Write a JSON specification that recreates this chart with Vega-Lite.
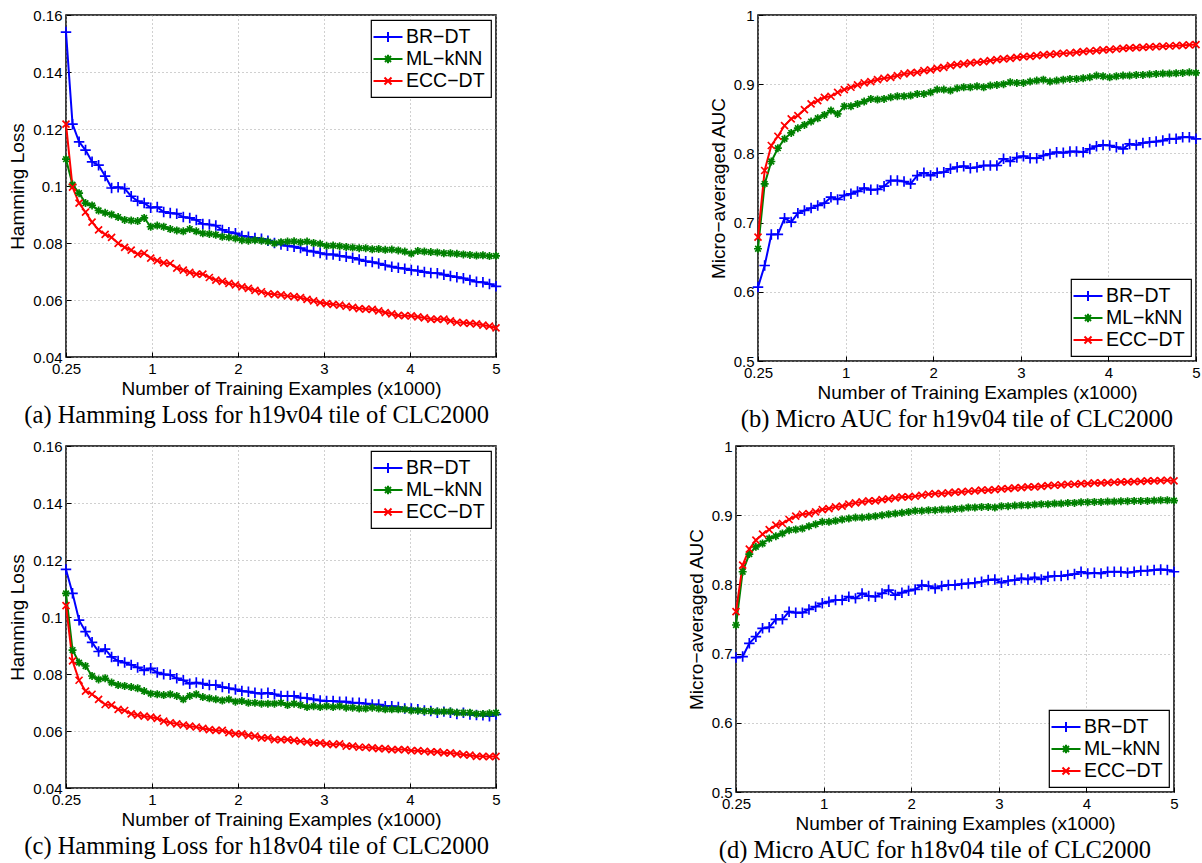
{
"$schema": "https://vega.github.io/schema/vega-lite/v6.json",
"padding": {"left": 8, "top": 7, "right": 0, "bottom": 0},
"background": "white",
"config": {
  "view": {"stroke": "#000", "strokeWidth": 1.5},
  "axis": {"labelFont": "Liberation Sans", "labelFontSize": 15, "labelColor": "#000", "titleFont": "Liberation Sans", "titleFontSize": 19, "titleFontWeight": "normal", "titleColor": "#000", "grid": true, "gridColor": "#a0a0a0", "gridDash": [1, 3], "domain": false, "ticks": true, "tickSize": -5, "tickColor": "#000", "tickWidth": 1, "labelPadding": 9, "labelFlush": false, "labelOverlap": false},
  "axisX": {"titlePadding": 3},
  "axisY": {"titlePadding": 5},
  "legend": {"strokeColor": "#000", "strokeWidth": 1.2, "fillColor": "#fff", "padding": 6, "labelFont": "Liberation Sans", "labelFontSize": 19.5, "labelColor": "#000", "symbolSize": 400, "symbolStrokeWidth": 2, "rowPadding": 1, "labelOffset": 7, "offset": 5},
  "title": {"font": "Liberation Serif", "fontSize": 24.5, "fontWeight": "normal", "color": "#000", "orient": "bottom", "anchor": "middle", "frame": "bounds", "offset": 6}
},
"datasets": {
"a": [
{"x":0,"B":0.154,"M":0.1094,"E":0.1217},
{"x":0.076,"B":0.1217,"M":0.1005,"E":0.0996},
{"x":0.152,"B":0.1155,"M":0.0975,"E":0.094},
{"x":0.227,"B":0.1126,"M":0.094,"E":0.0908},
{"x":0.303,"B":0.1085,"M":0.0932,"E":0.0873},
{"x":0.379,"B":0.1073,"M":0.0914,"E":0.0846},
{"x":0.455,"B":0.1035,"M":0.0906,"E":0.083},
{"x":0.53,"B":0.0993,"M":0.09,"E":0.082},
{"x":0.606,"B":0.0996,"M":0.0891,"E":0.0799},
{"x":0.682,"B":0.0991,"M":0.0881,"E":0.0785},
{"x":0.758,"B":0.0964,"M":0.0879,"E":0.0775},
{"x":0.833,"B":0.0947,"M":0.0877,"E":0.0761},
{"x":0.909,"B":0.094,"M":0.0888,"E":0.0764},
{"x":0.985,"B":0.0924,"M":0.0857,"E":0.0747},
{"x":1.061,"B":0.0926,"M":0.0861,"E":0.0738},
{"x":1.136,"B":0.0909,"M":0.0857,"E":0.073},
{"x":1.212,"B":0.0905,"M":0.0849,"E":0.0728},
{"x":1.288,"B":0.0903,"M":0.0844,"E":0.0712},
{"x":1.364,"B":0.0891,"M":0.0841,"E":0.0705},
{"x":1.439,"B":0.0888,"M":0.0849,"E":0.0697},
{"x":1.515,"B":0.0881,"M":0.0841,"E":0.0691},
{"x":1.591,"B":0.0867,"M":0.0834,"E":0.0691},
{"x":1.667,"B":0.0865,"M":0.0832,"E":0.0679},
{"x":1.742,"B":0.0861,"M":0.0829,"E":0.067},
{"x":1.818,"B":0.0846,"M":0.0822,"E":0.0665},
{"x":1.894,"B":0.0838,"M":0.082,"E":0.0658},
{"x":1.97,"B":0.0834,"M":0.0816,"E":0.0653},
{"x":2.045,"B":0.0825,"M":0.081,"E":0.0646},
{"x":2.121,"B":0.0822,"M":0.0808,"E":0.0641},
{"x":2.197,"B":0.0818,"M":0.081,"E":0.0634},
{"x":2.273,"B":0.0815,"M":0.0808,"E":0.0629},
{"x":2.348,"B":0.0808,"M":0.0805,"E":0.0622},
{"x":2.424,"B":0.08,"M":0.0799,"E":0.062},
{"x":2.5,"B":0.0795,"M":0.0803,"E":0.0618},
{"x":2.576,"B":0.079,"M":0.0805,"E":0.0614},
{"x":2.652,"B":0.0787,"M":0.0806,"E":0.0612},
{"x":2.727,"B":0.0782,"M":0.0803,"E":0.0608},
{"x":2.803,"B":0.0773,"M":0.0805,"E":0.0602},
{"x":2.879,"B":0.077,"M":0.08,"E":0.0597},
{"x":2.955,"B":0.0765,"M":0.0797,"E":0.0591},
{"x":3.03,"B":0.076,"M":0.079,"E":0.0587},
{"x":3.106,"B":0.076,"M":0.0791,"E":0.0585},
{"x":3.182,"B":0.0755,"M":0.0789,"E":0.0582},
{"x":3.258,"B":0.0752,"M":0.0786,"E":0.0578},
{"x":3.333,"B":0.0748,"M":0.0784,"E":0.0574},
{"x":3.409,"B":0.0742,"M":0.0782,"E":0.057},
{"x":3.485,"B":0.0736,"M":0.0782,"E":0.0568},
{"x":3.561,"B":0.0733,"M":0.0778,"E":0.0567},
{"x":3.636,"B":0.0728,"M":0.0779,"E":0.0562},
{"x":3.712,"B":0.0722,"M":0.0776,"E":0.0556},
{"x":3.788,"B":0.0717,"M":0.0777,"E":0.0551},
{"x":3.864,"B":0.0713,"M":0.0774,"E":0.0546},
{"x":3.939,"B":0.071,"M":0.077,"E":0.0545},
{"x":4.015,"B":0.0705,"M":0.0763,"E":0.0544},
{"x":4.091,"B":0.0703,"M":0.0772,"E":0.0541},
{"x":4.167,"B":0.0698,"M":0.077,"E":0.0537},
{"x":4.242,"B":0.0695,"M":0.0768,"E":0.0533},
{"x":4.318,"B":0.0694,"M":0.0767,"E":0.0532},
{"x":4.394,"B":0.0689,"M":0.0764,"E":0.0533},
{"x":4.47,"B":0.0684,"M":0.0764,"E":0.0527},
{"x":4.545,"B":0.068,"M":0.0762,"E":0.0522},
{"x":4.621,"B":0.0676,"M":0.076,"E":0.052},
{"x":4.697,"B":0.067,"M":0.0758,"E":0.0518},
{"x":4.773,"B":0.0664,"M":0.0756,"E":0.0516},
{"x":4.848,"B":0.0662,"M":0.0757,"E":0.0512},
{"x":4.924,"B":0.0656,"M":0.0754,"E":0.0508},
{"x":5,"B":0.0648,"M":0.0755,"E":0.0502}
],
"b": [
{"x":0,"B":0.6068,"M":0.6622,"E":0.679},
{"x":0.076,"B":0.638,"M":0.756,"E":0.7753},
{"x":0.152,"B":0.6829,"M":0.7883,"E":0.8114},
{"x":0.227,"B":0.683,"M":0.8075,"E":0.8248},
{"x":0.303,"B":0.7064,"M":0.821,"E":0.8402},
{"x":0.379,"B":0.7007,"M":0.8296,"E":0.8499},
{"x":0.455,"B":0.7137,"M":0.8364,"E":0.8547},
{"x":0.53,"B":0.7175,"M":0.8412,"E":0.8633},
{"x":0.606,"B":0.721,"M":0.846,"E":0.8715},
{"x":0.682,"B":0.7247,"M":0.8508,"E":0.8763},
{"x":0.758,"B":0.728,"M":0.8556,"E":0.8811},
{"x":0.833,"B":0.7367,"M":0.8619,"E":0.8826},
{"x":0.909,"B":0.7334,"M":0.8571,"E":0.8883},
{"x":0.985,"B":0.7392,"M":0.8681,"E":0.8922},
{"x":1.061,"B":0.7416,"M":0.8681,"E":0.8956},
{"x":1.136,"B":0.745,"M":0.8715,"E":0.8989},
{"x":1.212,"B":0.7498,"M":0.8749,"E":0.9018},
{"x":1.288,"B":0.7474,"M":0.8787,"E":0.9038},
{"x":1.364,"B":0.7478,"M":0.8778,"E":0.9066},
{"x":1.439,"B":0.7526,"M":0.8787,"E":0.9086},
{"x":1.515,"B":0.7608,"M":0.8811,"E":0.91},
{"x":1.591,"B":0.7608,"M":0.8826,"E":0.9124},
{"x":1.667,"B":0.7594,"M":0.8826,"E":0.9148},
{"x":1.742,"B":0.756,"M":0.8835,"E":0.9163},
{"x":1.818,"B":0.768,"M":0.8859,"E":0.9172},
{"x":1.894,"B":0.7719,"M":0.8859,"E":0.9196},
{"x":1.97,"B":0.768,"M":0.8883,"E":0.9206},
{"x":2.045,"B":0.7719,"M":0.8922,"E":0.923},
{"x":2.121,"B":0.7729,"M":0.8922,"E":0.9244},
{"x":2.197,"B":0.7777,"M":0.8908,"E":0.9269},
{"x":2.273,"B":0.7801,"M":0.8941,"E":0.9283},
{"x":2.348,"B":0.7815,"M":0.8956,"E":0.9293},
{"x":2.424,"B":0.7786,"M":0.8956,"E":0.9307},
{"x":2.5,"B":0.78,"M":0.897,"E":0.9317},
{"x":2.576,"B":0.7825,"M":0.8956,"E":0.9326},
{"x":2.652,"B":0.7825,"M":0.898,"E":0.9341},
{"x":2.727,"B":0.7825,"M":0.8989,"E":0.9355},
{"x":2.803,"B":0.7921,"M":0.9,"E":0.9365},
{"x":2.879,"B":0.7883,"M":0.9028,"E":0.9374},
{"x":2.955,"B":0.794,"M":0.9018,"E":0.9389},
{"x":3.03,"B":0.796,"M":0.9018,"E":0.9398},
{"x":3.106,"B":0.793,"M":0.9038,"E":0.9403},
{"x":3.182,"B":0.793,"M":0.9052,"E":0.9413},
{"x":3.258,"B":0.797,"M":0.9066,"E":0.9423},
{"x":3.333,"B":0.7993,"M":0.9038,"E":0.9432},
{"x":3.409,"B":0.8017,"M":0.9052,"E":0.9437},
{"x":3.485,"B":0.8008,"M":0.9066,"E":0.9447},
{"x":3.561,"B":0.8027,"M":0.9076,"E":0.9451},
{"x":3.636,"B":0.8027,"M":0.9076,"E":0.9461},
{"x":3.712,"B":0.8017,"M":0.9086,"E":0.9471},
{"x":3.788,"B":0.8065,"M":0.91,"E":0.948},
{"x":3.864,"B":0.8104,"M":0.9124,"E":0.9485},
{"x":3.939,"B":0.8123,"M":0.9115,"E":0.9495},
{"x":4.015,"B":0.8114,"M":0.91,"E":0.95},
{"x":4.091,"B":0.809,"M":0.9115,"E":0.9509},
{"x":4.167,"B":0.8065,"M":0.9124,"E":0.9519},
{"x":4.242,"B":0.8137,"M":0.9124,"E":0.9524},
{"x":4.318,"B":0.8123,"M":0.9134,"E":0.9528},
{"x":4.394,"B":0.8152,"M":0.9134,"E":0.9533},
{"x":4.47,"B":0.8162,"M":0.9143,"E":0.9538},
{"x":4.545,"B":0.8171,"M":0.9148,"E":0.9543},
{"x":4.621,"B":0.8186,"M":0.9153,"E":0.9548},
{"x":4.697,"B":0.821,"M":0.9153,"E":0.9552},
{"x":4.773,"B":0.821,"M":0.9158,"E":0.9557},
{"x":4.848,"B":0.8234,"M":0.9163,"E":0.9562},
{"x":4.924,"B":0.8234,"M":0.9172,"E":0.9567},
{"x":5,"B":0.821,"M":0.9163,"E":0.9572}
],
"c": [
{"x":0,"B":0.1167,"M":0.1083,"E":0.104},
{"x":0.076,"B":0.1083,"M":0.0884,"E":0.0846},
{"x":0.152,"B":0.0989,"M":0.084,"E":0.0778},
{"x":0.227,"B":0.0949,"M":0.0828,"E":0.074},
{"x":0.303,"B":0.0911,"M":0.0793,"E":0.0729},
{"x":0.379,"B":0.0879,"M":0.0781,"E":0.0711},
{"x":0.455,"B":0.0887,"M":0.0785,"E":0.0693},
{"x":0.53,"B":0.086,"M":0.077,"E":0.0691},
{"x":0.606,"B":0.0846,"M":0.0761,"E":0.0676},
{"x":0.682,"B":0.084,"M":0.0758,"E":0.0672},
{"x":0.758,"B":0.0832,"M":0.0754,"E":0.066},
{"x":0.833,"B":0.0823,"M":0.075,"E":0.0656},
{"x":0.909,"B":0.0813,"M":0.074,"E":0.0652},
{"x":0.985,"B":0.082,"M":0.0731,"E":0.0649},
{"x":1.061,"B":0.0805,"M":0.0729,"E":0.0644},
{"x":1.136,"B":0.0799,"M":0.0726,"E":0.0635},
{"x":1.212,"B":0.0797,"M":0.0729,"E":0.0629},
{"x":1.288,"B":0.0785,"M":0.0723,"E":0.0625},
{"x":1.364,"B":0.0778,"M":0.0711,"E":0.0621},
{"x":1.439,"B":0.0766,"M":0.0723,"E":0.0617},
{"x":1.515,"B":0.077,"M":0.0729,"E":0.0614},
{"x":1.591,"B":0.0766,"M":0.0719,"E":0.0609},
{"x":1.667,"B":0.0761,"M":0.0715,"E":0.0605},
{"x":1.742,"B":0.0761,"M":0.0711,"E":0.0602},
{"x":1.818,"B":0.0754,"M":0.0707,"E":0.0602},
{"x":1.894,"B":0.075,"M":0.0711,"E":0.0594},
{"x":1.97,"B":0.0746,"M":0.0703,"E":0.059},
{"x":2.045,"B":0.074,"M":0.0705,"E":0.059},
{"x":2.121,"B":0.0738,"M":0.0699,"E":0.0585},
{"x":2.197,"B":0.0734,"M":0.0699,"E":0.0582},
{"x":2.273,"B":0.0731,"M":0.0696,"E":0.0576},
{"x":2.348,"B":0.0734,"M":0.0696,"E":0.0576},
{"x":2.424,"B":0.0729,"M":0.0696,"E":0.057},
{"x":2.5,"B":0.0723,"M":0.0699,"E":0.057},
{"x":2.576,"B":0.0723,"M":0.0691,"E":0.057},
{"x":2.652,"B":0.0723,"M":0.0696,"E":0.0567},
{"x":2.727,"B":0.0717,"M":0.0691,"E":0.0564},
{"x":2.803,"B":0.0715,"M":0.0684,"E":0.0562},
{"x":2.879,"B":0.0711,"M":0.0687,"E":0.0558},
{"x":2.955,"B":0.0707,"M":0.0684,"E":0.0558},
{"x":3.03,"B":0.0705,"M":0.0687,"E":0.0555},
{"x":3.106,"B":0.0705,"M":0.0684,"E":0.0552},
{"x":3.182,"B":0.0703,"M":0.0687,"E":0.0555},
{"x":3.258,"B":0.0703,"M":0.0682,"E":0.0547},
{"x":3.333,"B":0.0699,"M":0.0682,"E":0.0547},
{"x":3.409,"B":0.0699,"M":0.0679,"E":0.0543},
{"x":3.485,"B":0.0696,"M":0.0679,"E":0.0543},
{"x":3.561,"B":0.0693,"M":0.0682,"E":0.0541},
{"x":3.636,"B":0.0693,"M":0.0679,"E":0.0538},
{"x":3.712,"B":0.0687,"M":0.0676,"E":0.0538},
{"x":3.788,"B":0.0687,"M":0.0676,"E":0.0535},
{"x":3.864,"B":0.0684,"M":0.0676,"E":0.0535},
{"x":3.939,"B":0.0679,"M":0.0676,"E":0.0535},
{"x":4.015,"B":0.0679,"M":0.0672,"E":0.0531},
{"x":4.091,"B":0.0676,"M":0.0672,"E":0.0531},
{"x":4.167,"B":0.0672,"M":0.067,"E":0.0529},
{"x":4.242,"B":0.067,"M":0.067,"E":0.0527},
{"x":4.318,"B":0.0664,"M":0.0668,"E":0.0527},
{"x":4.394,"B":0.0668,"M":0.0668,"E":0.0523},
{"x":4.47,"B":0.0664,"M":0.0668,"E":0.0523},
{"x":4.545,"B":0.066,"M":0.0664,"E":0.052},
{"x":4.621,"B":0.0664,"M":0.0664,"E":0.0517},
{"x":4.697,"B":0.0658,"M":0.0664,"E":0.0515},
{"x":4.773,"B":0.0656,"M":0.066,"E":0.0511},
{"x":4.848,"B":0.0655,"M":0.066,"E":0.0511},
{"x":4.924,"B":0.0652,"M":0.0662,"E":0.051},
{"x":5,"B":0.0658,"M":0.0664,"E":0.0511}
],
"d": [
{"x":0,"B":0.6942,"M":0.7413,"E":0.7606},
{"x":0.076,"B":0.6957,"M":0.8183,"E":0.8279},
{"x":0.152,"B":0.7149,"M":0.8438,"E":0.851},
{"x":0.227,"B":0.7245,"M":0.8543,"E":0.8639},
{"x":0.303,"B":0.7365,"M":0.8591,"E":0.8726},
{"x":0.379,"B":0.738,"M":0.8663,"E":0.8793},
{"x":0.455,"B":0.7495,"M":0.8697,"E":0.8856},
{"x":0.53,"B":0.7495,"M":0.8736,"E":0.888},
{"x":0.606,"B":0.7606,"M":0.8784,"E":0.8938},
{"x":0.682,"B":0.7591,"M":0.8793,"E":0.8986},
{"x":0.758,"B":0.7591,"M":0.8808,"E":0.9014},
{"x":0.833,"B":0.7639,"M":0.8841,"E":0.9024},
{"x":0.909,"B":0.7678,"M":0.887,"E":0.9048},
{"x":0.985,"B":0.7726,"M":0.8904,"E":0.9082},
{"x":1.061,"B":0.775,"M":0.8904,"E":0.9096},
{"x":1.136,"B":0.7774,"M":0.8918,"E":0.912},
{"x":1.212,"B":0.7774,"M":0.8938,"E":0.913},
{"x":1.288,"B":0.7822,"M":0.8952,"E":0.9159},
{"x":1.364,"B":0.7798,"M":0.8966,"E":0.9178},
{"x":1.439,"B":0.787,"M":0.8966,"E":0.9192},
{"x":1.515,"B":0.7832,"M":0.8976,"E":0.9207},
{"x":1.591,"B":0.7822,"M":0.8986,"E":0.9207},
{"x":1.667,"B":0.787,"M":0.9,"E":0.9226},
{"x":1.742,"B":0.7918,"M":0.9014,"E":0.9236},
{"x":1.818,"B":0.7846,"M":0.9024,"E":0.925},
{"x":1.894,"B":0.788,"M":0.9034,"E":0.9264},
{"x":1.97,"B":0.7909,"M":0.9048,"E":0.9264},
{"x":2.045,"B":0.7928,"M":0.9063,"E":0.9274},
{"x":2.121,"B":0.799,"M":0.9063,"E":0.9288},
{"x":2.197,"B":0.7976,"M":0.9072,"E":0.9303},
{"x":2.273,"B":0.7942,"M":0.9072,"E":0.9312},
{"x":2.348,"B":0.7976,"M":0.9082,"E":0.9312},
{"x":2.424,"B":0.799,"M":0.9082,"E":0.9322},
{"x":2.5,"B":0.799,"M":0.9091,"E":0.9332},
{"x":2.576,"B":0.8005,"M":0.9096,"E":0.9337},
{"x":2.652,"B":0.8014,"M":0.9111,"E":0.9346},
{"x":2.727,"B":0.8024,"M":0.9111,"E":0.9351},
{"x":2.803,"B":0.8038,"M":0.912,"E":0.9361},
{"x":2.879,"B":0.8062,"M":0.912,"E":0.9361},
{"x":2.955,"B":0.8072,"M":0.9111,"E":0.937},
{"x":3.03,"B":0.8024,"M":0.913,"E":0.938},
{"x":3.106,"B":0.8053,"M":0.913,"E":0.9385},
{"x":3.182,"B":0.8062,"M":0.9139,"E":0.9394},
{"x":3.258,"B":0.8087,"M":0.9144,"E":0.9399},
{"x":3.333,"B":0.8072,"M":0.9144,"E":0.9409},
{"x":3.409,"B":0.8101,"M":0.9154,"E":0.9409},
{"x":3.485,"B":0.8072,"M":0.9159,"E":0.9418},
{"x":3.561,"B":0.8111,"M":0.9159,"E":0.9428},
{"x":3.636,"B":0.812,"M":0.9168,"E":0.9433},
{"x":3.712,"B":0.812,"M":0.9168,"E":0.9438},
{"x":3.788,"B":0.8135,"M":0.9178,"E":0.9447},
{"x":3.864,"B":0.8149,"M":0.9178,"E":0.9447},
{"x":3.939,"B":0.8183,"M":0.9188,"E":0.9457},
{"x":4.015,"B":0.8159,"M":0.9188,"E":0.9457},
{"x":4.091,"B":0.8168,"M":0.9192,"E":0.9466},
{"x":4.167,"B":0.8159,"M":0.9192,"E":0.9466},
{"x":4.242,"B":0.8183,"M":0.9197,"E":0.9471},
{"x":4.318,"B":0.8183,"M":0.9197,"E":0.9476},
{"x":4.394,"B":0.8183,"M":0.9202,"E":0.9481},
{"x":4.47,"B":0.8168,"M":0.9202,"E":0.9481},
{"x":4.545,"B":0.8183,"M":0.9207,"E":0.9486},
{"x":4.621,"B":0.8197,"M":0.9207,"E":0.949},
{"x":4.697,"B":0.8197,"M":0.9207,"E":0.9495},
{"x":4.773,"B":0.8207,"M":0.9212,"E":0.9495},
{"x":4.848,"B":0.8216,"M":0.9216,"E":0.95},
{"x":4.924,"B":0.8207,"M":0.9216,"E":0.9505},
{"x":5,"B":0.8183,"M":0.9212,"E":0.9495}
]
},
"vconcat": [
{
"hconcat": [
{
"width": 430, "height": 342,
"data": {"name": "a"},
"transform": [{"fold": ["B", "M", "E"], "as": ["s", "v"]}],
"title": "(a) Hamming Loss for h19v04 tile of CLC2000",
"encoding": {
  "x": {"field": "x", "type": "quantitative", "scale": {"domain": [0, 5], "nice": false, "zero": false}, "axis": {"values": [0, 1, 2, 3, 4, 5], "format": "d", "labelExpr": "datum.value == 0 ? '0.25' : datum.label", "title": "Number of Training Examples (x1000)"}},
  "y": {"field": "v", "type": "quantitative", "scale": {"domain": [0.04, 0.16], "nice": false, "zero": false}, "axis": {"values": [0.04, 0.06, 0.08, 0.1, 0.12, 0.14, 0.16], "format": ".2~f", "title": "Hamming Loss"}}
},
"layer": [
  {"mark": {"type": "line", "strokeWidth": 2}, "encoding": {"stroke": {"field": "s", "type": "nominal", "scale": {"domain": ["B", "M", "E"], "range": ["#0000ff", "#008000", "#ff0000"]}, "legend": null}}},
  {"transform": [{"filter": "datum.s == 'B'"}], "mark": {"type": "point", "shape": "M-1,0H1M0,-1V1", "size": 110, "filled": false, "strokeWidth": 1.7, "color": "#0000ff", "opacity": 1}},
  {"transform": [{"filter": "datum.s == 'M'"}], "mark": {"type": "point", "shape": "M-1,0H1M0,-1V1M-0.7,-0.7L0.7,0.7M-0.7,0.7L0.7,-0.7", "size": 64, "filled": false, "strokeWidth": 1.7, "color": "#008000", "opacity": 1}},
  {"transform": [{"filter": "datum.s == 'E'"}], "mark": {"type": "point", "shape": "M-1,-1L1,1M-1,1L1,-1", "size": 49, "filled": false, "strokeWidth": 1.7, "color": "#ff0000", "opacity": 1}},
  {"mark": {"type": "point", "filled": false, "opacity": 0, "strokeWidth": 2}, "encoding": {
    "color": {"field": "s", "type": "nominal", "scale": {"domain": ["B", "M", "E"], "range": ["#0000ff", "#008000", "#ff0000"]}, "legend": {"title": null, "orient": "top-right", "labelExpr": "datum.value == 'B' ? 'BR−DT' : datum.value == 'M' ? 'ML−kNN' : 'ECC−DT'"}},
    "shape": {"field": "s", "type": "nominal", "scale": {"domain": ["B", "M", "E"], "range": ["M-1.45,0H1.45M0,-0.5V0.5", "M-1.45,0H1.45M0,-0.42V0.42M-0.3,-0.3L0.3,0.3M-0.3,0.3L0.3,-0.3", "M-1.45,0H1.45M-0.35,-0.35L0.35,0.35M-0.35,0.35L0.35,-0.35"]}, "legend": {"title": null, "orient": "top-right", "labelExpr": "datum.value == 'B' ? 'BR−DT' : datum.value == 'M' ? 'ML−kNN' : 'ECC−DT'"}}
  }}
]
},
{
"width": 438, "height": 346,
"data": {"name": "b"},
"transform": [{"fold": ["B", "M", "E"], "as": ["s", "v"]}],
"title": "(b) Micro AUC for h19v04 tile of CLC2000",
"encoding": {
  "x": {"field": "x", "type": "quantitative", "scale": {"domain": [0, 5], "nice": false, "zero": false}, "axis": {"values": [0, 1, 2, 3, 4, 5], "format": "d", "labelExpr": "datum.value == 0 ? '0.25' : datum.label", "title": "Number of Training Examples (x1000)"}},
  "y": {"field": "v", "type": "quantitative", "scale": {"domain": [0.5, 1], "nice": false, "zero": false}, "axis": {"values": [0.5, 0.6, 0.7, 0.8, 0.9, 1], "format": ".1~f", "title": "Micro−averaged AUC"}}
},
"layer": [
  {"mark": {"type": "line", "strokeWidth": 2}, "encoding": {"stroke": {"field": "s", "type": "nominal", "scale": {"domain": ["B", "M", "E"], "range": ["#0000ff", "#008000", "#ff0000"]}, "legend": null}}},
  {"transform": [{"filter": "datum.s == 'B'"}], "mark": {"type": "point", "shape": "M-1,0H1M0,-1V1", "size": 110, "filled": false, "strokeWidth": 1.7, "color": "#0000ff", "opacity": 1}},
  {"transform": [{"filter": "datum.s == 'M'"}], "mark": {"type": "point", "shape": "M-1,0H1M0,-1V1M-0.7,-0.7L0.7,0.7M-0.7,0.7L0.7,-0.7", "size": 64, "filled": false, "strokeWidth": 1.7, "color": "#008000", "opacity": 1}},
  {"transform": [{"filter": "datum.s == 'E'"}], "mark": {"type": "point", "shape": "M-1,-1L1,1M-1,1L1,-1", "size": 49, "filled": false, "strokeWidth": 1.7, "color": "#ff0000", "opacity": 1}},
  {"mark": {"type": "point", "filled": false, "opacity": 0, "strokeWidth": 2}, "encoding": {
    "color": {"field": "s", "type": "nominal", "scale": {"domain": ["B", "M", "E"], "range": ["#0000ff", "#008000", "#ff0000"]}, "legend": {"title": null, "orient": "bottom-right", "labelExpr": "datum.value == 'B' ? 'BR−DT' : datum.value == 'M' ? 'ML−kNN' : 'ECC−DT'"}},
    "shape": {"field": "s", "type": "nominal", "scale": {"domain": ["B", "M", "E"], "range": ["M-1.45,0H1.45M0,-0.5V0.5", "M-1.45,0H1.45M0,-0.42V0.42M-0.3,-0.3L0.3,0.3M-0.3,0.3L0.3,-0.3", "M-1.45,0H1.45M-0.35,-0.35L0.35,0.35M-0.35,0.35L0.35,-0.35"]}, "legend": {"title": null, "orient": "bottom-right", "labelExpr": "datum.value == 'B' ? 'BR−DT' : datum.value == 'M' ? 'ML−kNN' : 'ECC−DT'"}}
  }}
]
}
],
"spacing": 262,
"bounds": "flush"
},
{
"hconcat": [
{
"width": 430, "height": 342,
"data": {"name": "c"},
"transform": [{"fold": ["B", "M", "E"], "as": ["s", "v"]}],
"title": "(c) Hamming Loss for h18v04 tile of CLC2000",
"encoding": {
  "x": {"field": "x", "type": "quantitative", "scale": {"domain": [0, 5], "nice": false, "zero": false}, "axis": {"values": [0, 1, 2, 3, 4, 5], "format": "d", "labelExpr": "datum.value == 0 ? '0.25' : datum.label", "title": "Number of Training Examples (x1000)"}},
  "y": {"field": "v", "type": "quantitative", "scale": {"domain": [0.04, 0.16], "nice": false, "zero": false}, "axis": {"values": [0.04, 0.06, 0.08, 0.1, 0.12, 0.14, 0.16], "format": ".2~f", "title": "Hamming Loss"}}
},
"layer": [
  {"mark": {"type": "line", "strokeWidth": 2}, "encoding": {"stroke": {"field": "s", "type": "nominal", "scale": {"domain": ["B", "M", "E"], "range": ["#0000ff", "#008000", "#ff0000"]}, "legend": null}}},
  {"transform": [{"filter": "datum.s == 'B'"}], "mark": {"type": "point", "shape": "M-1,0H1M0,-1V1", "size": 110, "filled": false, "strokeWidth": 1.7, "color": "#0000ff", "opacity": 1}},
  {"transform": [{"filter": "datum.s == 'M'"}], "mark": {"type": "point", "shape": "M-1,0H1M0,-1V1M-0.7,-0.7L0.7,0.7M-0.7,0.7L0.7,-0.7", "size": 64, "filled": false, "strokeWidth": 1.7, "color": "#008000", "opacity": 1}},
  {"transform": [{"filter": "datum.s == 'E'"}], "mark": {"type": "point", "shape": "M-1,-1L1,1M-1,1L1,-1", "size": 49, "filled": false, "strokeWidth": 1.7, "color": "#ff0000", "opacity": 1}},
  {"mark": {"type": "point", "filled": false, "opacity": 0, "strokeWidth": 2}, "encoding": {
    "color": {"field": "s", "type": "nominal", "scale": {"domain": ["B", "M", "E"], "range": ["#0000ff", "#008000", "#ff0000"]}, "legend": {"title": null, "orient": "top-right", "labelExpr": "datum.value == 'B' ? 'BR−DT' : datum.value == 'M' ? 'ML−kNN' : 'ECC−DT'"}},
    "shape": {"field": "s", "type": "nominal", "scale": {"domain": ["B", "M", "E"], "range": ["M-1.45,0H1.45M0,-0.5V0.5", "M-1.45,0H1.45M0,-0.42V0.42M-0.3,-0.3L0.3,0.3M-0.3,0.3L0.3,-0.3", "M-1.45,0H1.45M-0.35,-0.35L0.35,0.35M-0.35,0.35L0.35,-0.35"]}, "legend": {"title": null, "orient": "top-right", "labelExpr": "datum.value == 'B' ? 'BR−DT' : datum.value == 'M' ? 'ML−kNN' : 'ECC−DT'"}}
  }}
]
},
{
"width": 438, "height": 346,
"data": {"name": "d"},
"transform": [{"fold": ["B", "M", "E"], "as": ["s", "v"]}],
"title": "(d) Micro AUC for h18v04 tile of CLC2000",
"encoding": {
  "x": {"field": "x", "type": "quantitative", "scale": {"domain": [0, 5], "nice": false, "zero": false}, "axis": {"values": [0, 1, 2, 3, 4, 5], "format": "d", "labelExpr": "datum.value == 0 ? '0.25' : datum.label", "title": "Number of Training Examples (x1000)"}},
  "y": {"field": "v", "type": "quantitative", "scale": {"domain": [0.5, 1], "nice": false, "zero": false}, "axis": {"values": [0.5, 0.6, 0.7, 0.8, 0.9, 1], "format": ".1~f", "title": "Micro−averaged AUC"}}
},
"layer": [
  {"mark": {"type": "line", "strokeWidth": 2}, "encoding": {"stroke": {"field": "s", "type": "nominal", "scale": {"domain": ["B", "M", "E"], "range": ["#0000ff", "#008000", "#ff0000"]}, "legend": null}}},
  {"transform": [{"filter": "datum.s == 'B'"}], "mark": {"type": "point", "shape": "M-1,0H1M0,-1V1", "size": 110, "filled": false, "strokeWidth": 1.7, "color": "#0000ff", "opacity": 1}},
  {"transform": [{"filter": "datum.s == 'M'"}], "mark": {"type": "point", "shape": "M-1,0H1M0,-1V1M-0.7,-0.7L0.7,0.7M-0.7,0.7L0.7,-0.7", "size": 64, "filled": false, "strokeWidth": 1.7, "color": "#008000", "opacity": 1}},
  {"transform": [{"filter": "datum.s == 'E'"}], "mark": {"type": "point", "shape": "M-1,-1L1,1M-1,1L1,-1", "size": 49, "filled": false, "strokeWidth": 1.7, "color": "#ff0000", "opacity": 1}},
  {"mark": {"type": "point", "filled": false, "opacity": 0, "strokeWidth": 2}, "encoding": {
    "color": {"field": "s", "type": "nominal", "scale": {"domain": ["B", "M", "E"], "range": ["#0000ff", "#008000", "#ff0000"]}, "legend": {"title": null, "orient": "bottom-right", "labelExpr": "datum.value == 'B' ? 'BR−DT' : datum.value == 'M' ? 'ML−kNN' : 'ECC−DT'"}},
    "shape": {"field": "s", "type": "nominal", "scale": {"domain": ["B", "M", "E"], "range": ["M-1.45,0H1.45M0,-0.5V0.5", "M-1.45,0H1.45M0,-0.42V0.42M-0.3,-0.3L0.3,0.3M-0.3,0.3L0.3,-0.3", "M-1.45,0H1.45M-0.35,-0.35L0.35,0.35M-0.35,0.35L0.35,-0.35"]}, "legend": {"title": null, "orient": "bottom-right", "labelExpr": "datum.value == 'B' ? 'BR−DT' : datum.value == 'M' ? 'ML−kNN' : 'ECC−DT'"}}
  }}
]
}
],
"spacing": 240,
"bounds": "flush"
}
],
"spacing": 5
}
